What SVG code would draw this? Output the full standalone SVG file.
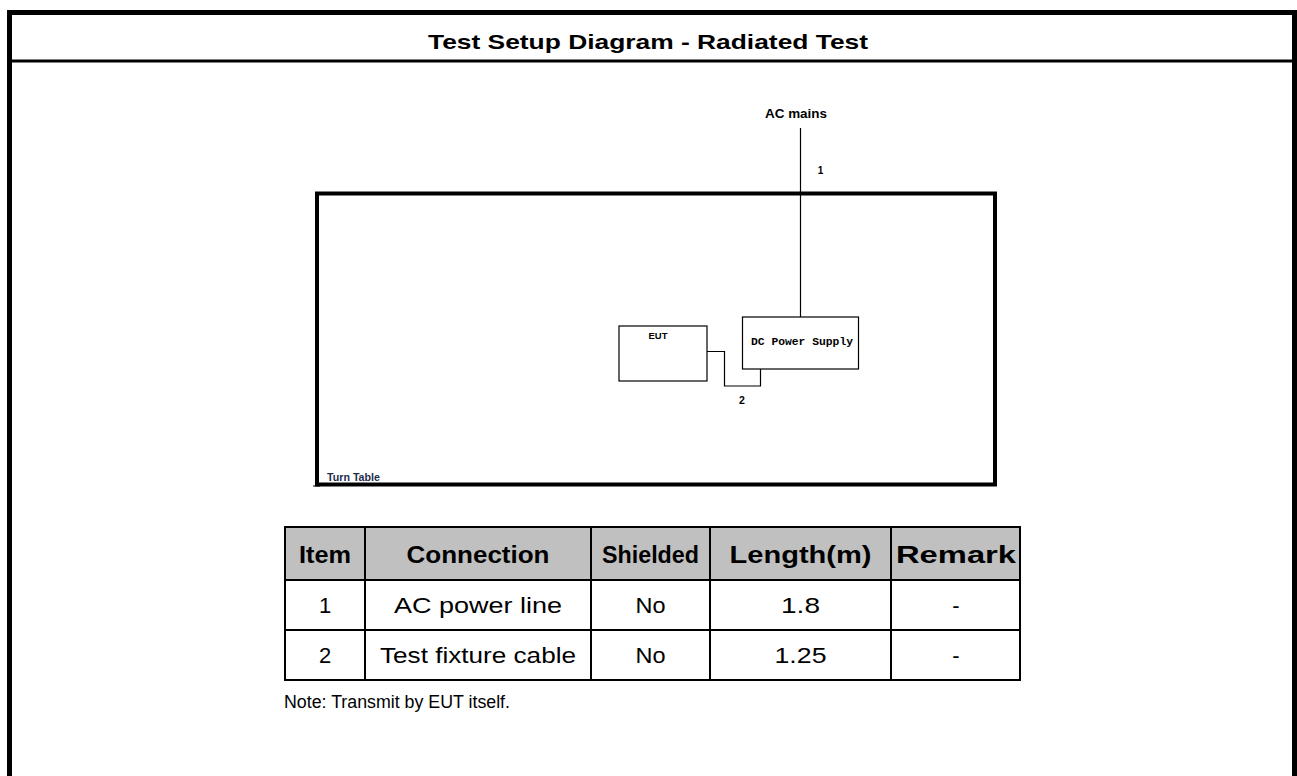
<svg xmlns="http://www.w3.org/2000/svg" width="1297" height="776" viewBox="0 0 1297 776">
<style>
.sans{font-family:"Liberation Sans",Arial,sans-serif;}
.b{font-weight:bold;}
.box{fill:#fff;stroke:#000;stroke-width:1.2;}
.wire{fill:none;stroke:#000;stroke-width:1.2;}
.grid{fill:none;stroke:#000;stroke-width:2;}
.th{font-family:"Liberation Sans",Arial,sans-serif;font-weight:bold;font-size:23px;text-anchor:middle;fill:#000;}
.td{font-family:"Liberation Sans",Arial,sans-serif;font-size:22px;text-anchor:middle;fill:#000;}
</style>
<rect x="0" y="0" width="1297" height="776" fill="#fff"/>
<g id="frame">
<rect x="9.5" y="12.5" width="1285" height="800" fill="none" stroke="#000" stroke-width="5"/>
<line x1="9.5" y1="61" x2="1294.5" y2="61" stroke="#000" stroke-width="3"/>
<text x="648" y="49" class="sans b" font-size="21" text-anchor="middle" textLength="440" lengthAdjust="spacingAndGlyphs">Test Setup Diagram - Radiated Test</text>
</g>
<g id="turn-table">
<rect x="317" y="193.5" width="678" height="291" fill="none" stroke="#000" stroke-width="4"/>
<line x1="313" y1="486" x2="320" y2="486" stroke="#000" stroke-width="1"/>
<text x="327" y="481" class="sans b" font-size="10" fill="#1f2d4d" textLength="53" lengthAdjust="spacingAndGlyphs">Turn Table</text>
</g>
<g id="ac-mains">
<text x="796" y="118" class="sans b" font-size="12" text-anchor="middle" textLength="62" lengthAdjust="spacingAndGlyphs">AC mains</text>
</g>
<g id="eut">
<rect class="box" x="619" y="326" width="88" height="55"/>
<text x="658" y="339" class="sans b" font-size="9.5" text-anchor="middle">EUT</text>
</g>
<g id="dc-power-supply">
<rect class="box" x="742.5" y="317" width="116" height="52"/>
<text x="802" y="345" font-family="'Liberation Mono','Courier New',monospace" font-weight="bold" font-size="11.5" text-anchor="middle" textLength="102" lengthAdjust="spacingAndGlyphs">DC Power Supply</text>
</g>
<g id="connectors">
<line class="wire" x1="800.5" y1="128" x2="800.5" y2="317"/>
<text x="820.5" y="173.5" class="sans b" font-size="10" text-anchor="middle">1</text>
<polyline class="wire" points="707,351.5 724.5,351.5 724.5,386 760.5,386 760.5,369"/>
<text x="742" y="403.5" class="sans b" font-size="10.5" text-anchor="middle">2</text>
</g>
<g id="table">
<rect x="285" y="527" width="735" height="53" fill="#c0c0c0"/>
<rect class="grid" x="285" y="527" width="735" height="153"/>
<line class="grid" x1="285" y1="580" x2="1020" y2="580"/>
<line class="grid" x1="285" y1="630" x2="1020" y2="630"/>
<line class="grid" x1="365" y1="527" x2="365" y2="680"/>
<line class="grid" x1="591" y1="527" x2="591" y2="680"/>
<line class="grid" x1="710" y1="527" x2="710" y2="680"/>
<line class="grid" x1="891" y1="527" x2="891" y2="680"/>
<text class="th" x="325" y="563" textLength="52" lengthAdjust="spacingAndGlyphs">Item</text>
<text class="th" x="478" y="563" textLength="143" lengthAdjust="spacingAndGlyphs">Connection</text>
<text class="th" x="650.5" y="563" textLength="97" lengthAdjust="spacingAndGlyphs">Shielded</text>
<text class="th" x="800.5" y="563" textLength="142" lengthAdjust="spacingAndGlyphs">Length(m)</text>
<text class="th" x="956" y="563" textLength="120" lengthAdjust="spacingAndGlyphs">Remark</text>
<text class="td" x="325" y="613">1</text>
<text class="td" x="478" y="613" textLength="168" lengthAdjust="spacingAndGlyphs">AC power line</text>
<text class="td" x="650.5" y="613" textLength="30" lengthAdjust="spacingAndGlyphs">No</text>
<text class="td" x="800.5" y="613" textLength="39" lengthAdjust="spacingAndGlyphs">1.8</text>
<text class="td" x="956" y="613">-</text>
<text class="td" x="325" y="663">2</text>
<text class="td" x="478" y="663" textLength="196" lengthAdjust="spacingAndGlyphs">Test fixture cable</text>
<text class="td" x="650.5" y="663" textLength="30" lengthAdjust="spacingAndGlyphs">No</text>
<text class="td" x="800.5" y="663" textLength="52" lengthAdjust="spacingAndGlyphs">1.25</text>
<text class="td" x="956" y="663">-</text>
</g>
<g id="note">
<text x="284" y="708" class="sans" font-size="17.5" textLength="226" lengthAdjust="spacingAndGlyphs">Note: Transmit by EUT itself.</text>
</g>
</svg>
